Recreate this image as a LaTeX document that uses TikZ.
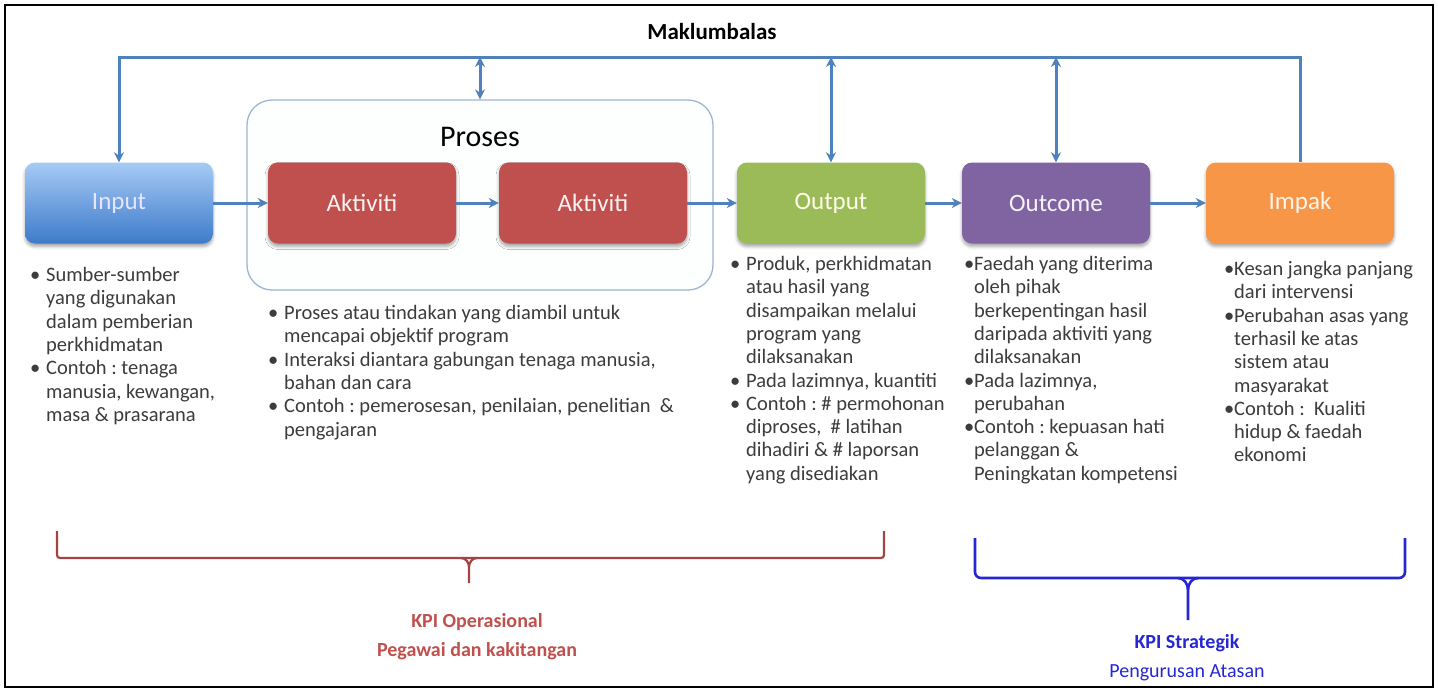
\documentclass[tikz,border=0pt]{standalone}
\usepackage{fontspec}
\setmainfont{Carlito}
\usepackage{array}
\definecolor{kpfb}{HTML}{4F81BD}
\definecolor{kpframe}{HTML}{9DB5D3}
\definecolor{kpintop}{HTML}{A6CBF5}
\definecolor{kpinbot}{HTML}{3D7ACA}
\definecolor{kpred}{HTML}{C0504D}
\definecolor{kpgreen}{HTML}{9BBB59}
\definecolor{kppurple}{HTML}{8064A2}
\definecolor{kporange}{HTML}{F79646}
\definecolor{kptext}{HTML}{3C3C3C}
\definecolor{kpblue}{HTML}{2626D4}
\usetikzlibrary{positioning,arrows.meta,shadows.blur}

\begin{document}
\begin{tikzpicture}[x=1pt,y=-1pt,
    stage/.style={rounded corners=10pt, minimum width=188pt, minimum height=81pt,
      font=\fontsize{25}{30}\selectfont,
      blur shadow={shadow xshift=0pt, shadow yshift=-3pt, shadow blur radius=3pt, shadow opacity=35}},
    flow/.style={draw=kpfb, line width=3pt, -{Stealth[length=10pt,width=10pt]}},
    flowboth/.style={flow, {Stealth[length=10pt,width=10pt]}-{Stealth[length=10pt,width=10pt]}},
    desc/.style={anchor=north west, inner sep=0pt, text=kptext, align=left,
      font=\fontsize{20.5}{23.3}\selectfont\frenchspacing},
    kpilabel/.style={align=center, font=\bfseries\fontsize{20}{29}\selectfont}]
  \useasboundingbox (0,0) rectangle (1438,691);
  \draw[line width=2pt] (5,5) rectangle (1433,687);

  \node[font=\bfseries\fontsize{23}{28}\selectfont] (maklum) at (712,32) {Maklumbalas};
  \coordinate (fbtop) at (0,57);

  \node[draw=kpframe, line width=1.3pt, fill=kpframe!2, rounded corners=25pt,
    minimum width=466pt, minimum height=190pt] (proses) at (480,195) {};
  \node[font=\fontsize{30}{36}\selectfont] (prosestitle) at (480,137) {Proses};

  \node[stage, top color=kpintop, bottom color=kpinbot, text=blue!10] (input) at (119,203) {Input};
  \node[stage, fill=kpred, text=white!92!kpred] (akt1) at (362,203) {Aktiviti};
  \node[stage, fill=kpred, text=white!92!kpred] (akt2) at (593,203) {Aktiviti};
  \node[stage, fill=kpgreen, text=yellow!8] (output) at (831,203) {Output};
  \node[stage, fill=kppurple, text=white!92!kppurple] (outcome) at (1056,203) {Outcome};
  \node[stage, fill=kporange, text=white!90!kporange] (impak) at (1300,203) {Impak};

  \draw[flow] (input) -- (akt1);
  \draw[flow] (akt1) -- (akt2);
  \draw[flow] (akt2) -- (output);
  \draw[flow] (output) -- (outcome);
  \draw[flow] (outcome) -- (impak);

  \draw[flow] (impak.north) -- (impak.north |- fbtop) -- (input.north |- fbtop) -- (input.north);
  \draw[flowboth] (proses.north |- fbtop) -- (proses.north);
  \draw[flowboth] (output.north |- fbtop) -- (output.north);
  \draw[flowboth] (outcome.north |- fbtop) -- (outcome.north);

  \node[desc] (inputtxt) at (30,265) {\begin{tabular}{@{}p{16pt}@{}l@{}}
    \textbullet & Sumber-sumber\\
     & yang digunakan\\
     & dalam pemberian\\
     & perkhidmatan\\
    \textbullet & Contoh : tenaga\\
     & manusia, kewangan,\\
     & masa \& prasarana
  \end{tabular}};
  \node[desc] (prosestxt) at (268,303) {\begin{tabular}{@{}p{16pt}@{}l@{}}
    \textbullet & Proses atau tindakan yang diambil untuk\\
     & mencapai objektif program\\
    \textbullet & Interaksi diantara gabungan tenaga manusia,\\
     & bahan dan cara\\
    \textbullet & Contoh : pemerosesan, penilaian, penelitian \ \&\\
     & pengajaran
  \end{tabular}};
  \node[desc] (outputtxt) at (730,254) {\begin{tabular}{@{}p{16pt}@{}l@{}}
    \textbullet & Produk, perkhidmatan\\
     & atau hasil yang\\
     & disampaikan melalui\\
     & program yang\\
     & dilaksanakan\\
    \textbullet & Pada lazimnya, kuantiti\\
    \textbullet & Contoh : \# permohonan\\
     & diproses, \ \# latihan\\
     & dihadiri \& \# laporsan\\
     & yang disediakan
  \end{tabular}};
  \node[desc] (outcometxt) at (964,254) {\begin{tabular}{@{}p{10pt}@{}l@{}}
    \textbullet & Faedah yang diterima\\
     & oleh pihak\\
     & berkepentingan hasil\\
     & daripada aktiviti yang\\
     & dilaksanakan\\
    \textbullet & Pada lazimnya,\\
     & perubahan\\
    \textbullet & Contoh : kepuasan hati\\
     & pelanggan \&\\
     & Peningkatan kompetensi
  \end{tabular}};
  \node[desc] (impaktxt) at (1224,259) {\begin{tabular}{@{}p{10pt}@{}l@{}}
    \textbullet & Kesan jangka panjang\\
     & dari intervensi\\
    \textbullet & Perubahan asas yang\\
     & terhasil ke atas\\
     & sistem atau\\
     & masyarakat\\
    \textbullet & Contoh : \ Kualiti\\
     & hidup \& faedah\\
     & ekonomi
  \end{tabular}};

  \draw[kpred!85!black, line width=2.2pt, rounded corners=3pt] (57,531) -- (57,558) -- (884,558) -- (884,531);
  \draw[kpred!85!black, line width=2.2pt] (461,558) to[out=0,in=90] (469,567) -- (469,583);
  \draw[kpred!85!black, line width=2.2pt] (477,558) to[out=180,in=90] (469,567);
  \node[kpilabel, text=kpred] (kpiops) at (477,637) {KPI Operasional\\Pegawai dan kakitangan};

  \draw[kpblue, line width=2.6pt, rounded corners=6pt] (975,538) -- (975,578) -- (1405,578) -- (1405,538);
  \draw[kpblue, line width=2.6pt] (1178,578) to[out=0,in=90] (1188,590) -- (1188,620);
  \draw[kpblue, line width=2.6pt] (1198,578) to[out=180,in=90] (1188,590);
  \node[kpilabel, text=kpblue] (kpistrat) at (1187,658) {KPI Strategik\\\mdseries Pengurusan Atasan};
\end{tikzpicture}
\end{document}
